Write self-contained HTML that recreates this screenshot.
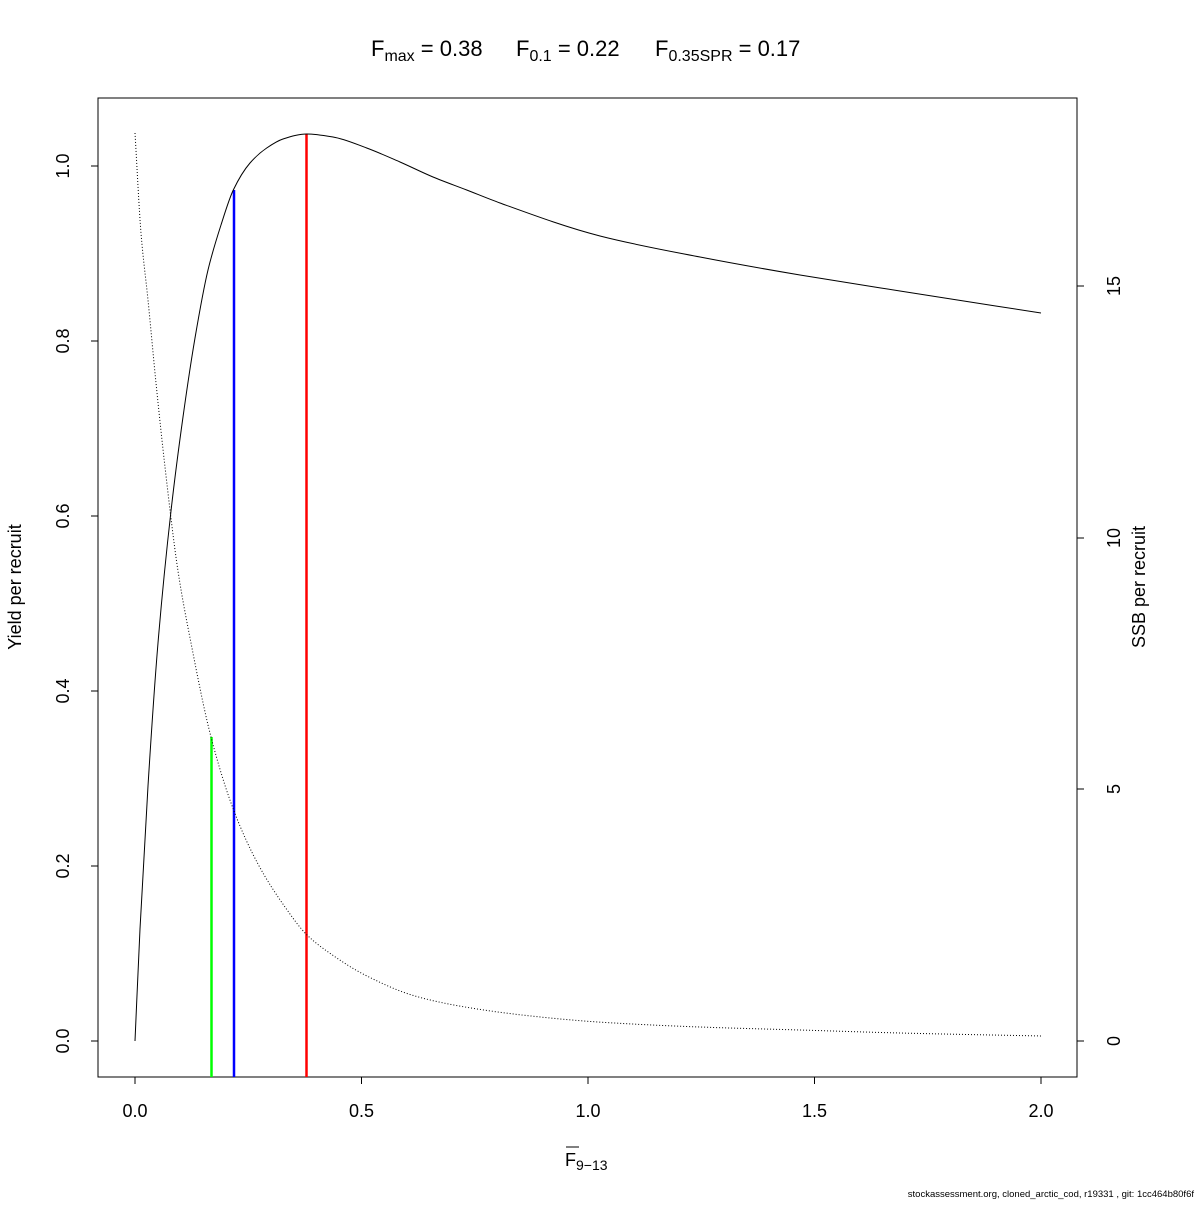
<!DOCTYPE html>
<html><head><style>
body{margin:0;background:#fff}
svg text{font-family:"Liberation Sans",sans-serif;fill:#000}
</style></head><body>
<svg id="s" width="1200" height="1200" xmlns="http://www.w3.org/2000/svg">
<rect x="98" y="98" width="979" height="979" fill="none" stroke="#000" stroke-width="1"/>
<g stroke="#000" stroke-width="1">
<line x1="135" y1="1077" x2="1041" y2="1077"/>
<line x1="135" y1="1077" x2="135" y2="1084"/><line x1="361.5" y1="1077" x2="361.5" y2="1084"/><line x1="588" y1="1077" x2="588" y2="1084"/><line x1="814.5" y1="1077" x2="814.5" y2="1084"/><line x1="1041" y1="1077" x2="1041" y2="1084"/>
<line x1="98" y1="166" x2="98" y2="1041"/>
<line x1="98" y1="1041" x2="91" y2="1041"/><line x1="98" y1="866" x2="91" y2="866"/><line x1="98" y1="691" x2="91" y2="691"/><line x1="98" y1="516" x2="91" y2="516"/><line x1="98" y1="341" x2="91" y2="341"/><line x1="98" y1="166" x2="91" y2="166"/>
<line x1="1077" y1="286" x2="1077" y2="1041"/>
<line x1="1077" y1="1041" x2="1084" y2="1041"/><line x1="1077" y1="789" x2="1084" y2="789"/><line x1="1077" y1="538" x2="1084" y2="538"/><line x1="1077" y1="286" x2="1084" y2="286"/>
</g>
<g font-size="18" text-anchor="middle">
<text x="135" y="1117">0.0</text><text x="361.5" y="1117">0.5</text><text x="588" y="1117">1.0</text><text x="814.5" y="1117">1.5</text><text x="1041" y="1117">2.0</text>
<text transform="translate(69,1041) rotate(-90)">0.0</text>
<text transform="translate(69,866) rotate(-90)">0.2</text>
<text transform="translate(69,691) rotate(-90)">0.4</text>
<text transform="translate(69,516) rotate(-90)">0.6</text>
<text transform="translate(69,341) rotate(-90)">0.8</text>
<text transform="translate(69,166) rotate(-90)">1.0</text>
<text transform="translate(1120,1041) rotate(-90)">0</text>
<text transform="translate(1120,789) rotate(-90)">5</text>
<text transform="translate(1120,538) rotate(-90)">10</text>
<text transform="translate(1120,286) rotate(-90)">15</text>
<text transform="translate(21,587) rotate(-90)">Yield per recruit</text>
<text transform="translate(1145,587) rotate(-90)">SSB per recruit</text>
</g>
<text x="565" y="1166" font-size="18">F<tspan font-size="14" dy="4">9−13</tspan></text>
<line x1="566" y1="1147" x2="579" y2="1147" stroke="#000" stroke-width="1"/>
<g font-size="22">
<text x="371" y="56">F<tspan font-size="16" dy="5">max</tspan><tspan dy="-5"> = 0.38</tspan></text>
<text x="516" y="56">F<tspan font-size="16" dy="5">0.1</tspan><tspan dy="-5"> = 0.22</tspan></text>
<text x="655" y="56">F<tspan font-size="16" dy="5">0.35SPR</tspan><tspan dy="-5"> = 0.17</tspan></text>
</g>
<text x="1194" y="1197" font-size="9.5" text-anchor="end">stockassessment.org, cloned_arctic_cod, r19331 , git: 1cc464b80f6f</text>
<line x1="211.5" y1="1077" x2="211.5" y2="737" stroke="#0f0" stroke-width="2.5"/>
<line x1="234" y1="1077" x2="234" y2="190" stroke="#00f" stroke-width="2.5"/>
<line x1="306.5" y1="1077" x2="306.5" y2="134" stroke="#f00" stroke-width="2.5"/>
<path id="ypr" fill="none" stroke="#000" stroke-width="1"/>
<path id="ssb" fill="none" stroke="#000" stroke-width="1" stroke-dasharray="1,2"/>
</svg>
<script>
function mono(p){var n=p.length,d=[],m=[];for(var i=0;i<n-1;i++)d.push((p[i+1][1]-p[i][1])/(p[i+1][0]-p[i][0]));
m[0]=d[0];m[n-1]=d[n-2];for(i=1;i<n-1;i++){if(d[i-1]*d[i]<=0)m[i]=0;else{var h0=p[i][0]-p[i-1][0],h1=p[i+1][0]-p[i][0];m[i]=3*(h0+h1)/((2*h1+h0)/d[i-1]+(h1+2*h0)/d[i]);}}
var s="M"+p[0][0]+","+p[0][1];for(i=0;i<n-1;i++){var h=p[i+1][0]-p[i][0];s+=" C"+(p[i][0]+h/3).toFixed(2)+","+(p[i][1]+m[i]*h/3).toFixed(2)+" "+(p[i+1][0]-h/3).toFixed(2)+","+(p[i+1][1]-m[i+1]*h/3).toFixed(2)+" "+p[i+1][0]+","+p[i+1][1];}return s;}
var y=[[135,1041],[140,929],[148,786],[158,643],[171,511],[183,417],[195,338],[208,270],[221,225],[233.3,190],[250,163],[266.7,148],[283,139],[306.7,134],[333,137],[366.7,148],[400,162],[433,177],[466.7,190],[500,203],[600,236],[700,257],[800,275],[900,291],[1041,313]];
var s=[[135,133],[141,233],[148,300],[156,383],[165,467],[178,571],[191,643],[211,737],[234,811],[258,864],[285,907],[307,935],[331,954],[365,975],[415,996],[465,1007],[531,1016],[598,1022],[700,1027],[800,1030],[900,1033],[1041,1036]];
document.getElementById("ypr").setAttribute("d",mono(y));
document.getElementById("ssb").setAttribute("d",mono(s));
</script>
</body></html>
